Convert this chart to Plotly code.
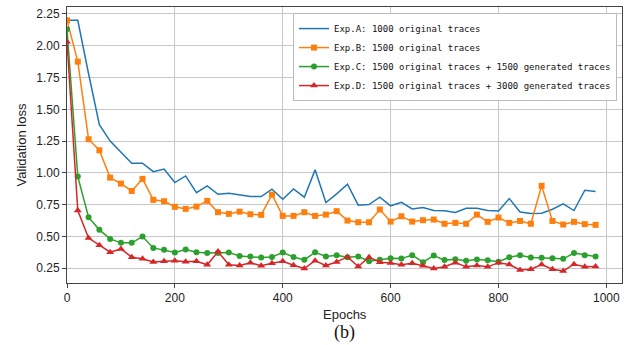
import plotly.graph_objects as go

epochs = list(range(0, 1000, 20))

exp_a = [2.20, 2.20, 1.78, 1.38, 1.25, 1.16, 1.076, 1.076, 1.01, 1.03,
         0.924, 0.976, 0.845, 0.898, 0.832, 0.84, 0.829, 0.814, 0.814, 0.872,
         0.793, 0.874, 0.809, 1.024, 0.767, 0.835, 0.911, 0.746, 0.751, 0.809,
         0.741, 0.769, 0.717, 0.727, 0.704, 0.702, 0.688, 0.722, 0.722, 0.704,
         0.701, 0.798, 0.693, 0.68, 0.683, 0.714, 0.756, 0.704, 0.864, 0.853]

exp_b = [2.20, 1.875, 1.265, 1.178, 0.963, 0.916, 0.858, 0.953, 0.788, 0.777,
         0.733, 0.717, 0.735, 0.78, 0.691, 0.678, 0.695, 0.675, 0.67, 0.829,
         0.662, 0.662, 0.691, 0.662, 0.672, 0.699, 0.625, 0.612, 0.612, 0.712,
         0.617, 0.659, 0.617, 0.628, 0.633, 0.60, 0.607, 0.60, 0.672, 0.615,
         0.649, 0.607, 0.622, 0.60, 0.898, 0.622, 0.594, 0.615, 0.597, 0.591]

exp_c = [2.13, 0.971, 0.652, 0.552, 0.481, 0.45, 0.45, 0.499, 0.41, 0.395,
         0.374, 0.397, 0.376, 0.369, 0.369, 0.374, 0.347, 0.342, 0.334, 0.339,
         0.374, 0.339, 0.316, 0.376, 0.342, 0.353, 0.337, 0.342, 0.305, 0.316,
         0.329, 0.326, 0.353, 0.298, 0.35, 0.314, 0.321, 0.31, 0.318, 0.313,
         0.302, 0.337, 0.353, 0.334, 0.332, 0.329, 0.324, 0.369, 0.353, 0.342]

exp_d = [2.032, 0.704, 0.487, 0.43, 0.376, 0.402, 0.337, 0.324, 0.30, 0.305,
         0.31, 0.302, 0.305, 0.277, 0.381, 0.277, 0.271, 0.294, 0.27, 0.289,
         0.305, 0.274, 0.248, 0.31, 0.271, 0.30, 0.339, 0.263, 0.337, 0.298,
         0.292, 0.277, 0.289, 0.269, 0.248, 0.262, 0.294, 0.261, 0.271, 0.261,
         0.294, 0.279, 0.237, 0.242, 0.279, 0.242, 0.229, 0.282, 0.261, 0.263]

names = ["Exp.A: 1000 original traces",
         "Exp.B: 1500 original traces",
         "Exp.C: 1500 original traces + 1500 generated traces",
         "Exp.D: 1500 original traces + 3000 generated traces"]
colors = ["#1f77b4", "#ff7f0e", "#2ca02c", "#d62728"]
symbols = [None, "square", "circle", "triangle-up"]
msizes = [0, 6, 6, 7]

yticks = [0.25, 0.5, 0.75, 1.0, 1.25, 1.5, 1.75, 2.0, 2.25]
xticks = [0, 200, 400, 600, 800, 1000]

fig = go.Figure()
for series, name, color, sym, ms in zip([exp_a, exp_b, exp_c, exp_d], names, colors, symbols, msizes):
    if sym is None:
        fig.add_trace(go.Scatter(x=epochs, y=series, name=name, mode="lines",
                                 line=dict(color=color, width=1.5)))
    else:
        fig.add_trace(go.Scatter(x=epochs, y=series, name=name, mode="lines+markers",
                                 line=dict(color=color, width=1.5),
                                 marker=dict(symbol=sym, size=ms, color=color)))

axis_common = dict(showgrid=True, gridcolor="#c8c8c8", gridwidth=1,
                   showline=True, linecolor="#444444", linewidth=1, mirror=True,
                   ticks="outside", ticklen=4, tickcolor="#444444",
                   tickfont=dict(family="Liberation Sans, Arial", size=12, color="#222222"),
                   zeroline=False)

fig.update_xaxes(range=[0, 1029], tickvals=xticks, **axis_common)
fig.update_yaxes(range=[0.134, 2.305], tickvals=yticks, tickformat=".2f",
                 title=dict(text="Validation loss", standoff=6,
                            font=dict(family="Liberation Sans, Arial", size=13, color="#222222")),
                 **axis_common)

fig.add_annotation(text="Epochs", xref="paper", yref="paper", x=0.5, y=-0.078,
                   showarrow=False, yanchor="top",
                   font=dict(family="Liberation Sans, Arial", size=13, color="#222222"))
fig.add_annotation(text="(b)", xref="paper", yref="paper", x=0.5, y=-0.135,
                   showarrow=False, yanchor="top",
                   font=dict(family="Liberation Serif, Times New Roman", size=18, color="#111111"))

fig.update_layout(
    width=635, height=345,
    margin=dict(l=67, r=13, t=7, b=62),
    plot_bgcolor="white", paper_bgcolor="white",
    showlegend=True,
    legend=dict(x=0.991, y=0.978, xanchor="right", yanchor="top",
                bgcolor="white", bordercolor="#bbbbbb", borderwidth=1,
                font=dict(family="DejaVu Sans Mono, monospace", size=9, color="#111111"),
                itemwidth=30, tracegroupgap=0),
)

fig.write_html("out.html")
